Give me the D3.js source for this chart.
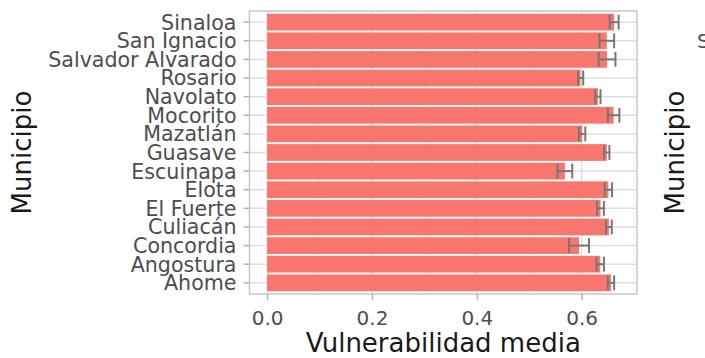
<!DOCTYPE html>
<html>
<head>
<meta charset="utf-8">
<script src="https://cdn.jsdelivr.net/npm/d3@7"></script>
<style>
  html, body { margin: 0; padding: 0; background: #fff; }
  svg { display: block; font-family: "DejaVu Sans", sans-serif; }
</style>
</head>
<body>
<svg id="chart" width="705" height="358"></svg>
<script>
// Mean vulnerability per municipality (top to bottom) with its standard error
const municipios = ["Sinaloa", "San Ignacio", "Salvador Alvarado", "Rosario", "Navolato",
  "Mocorito", "Mazatlán", "Guasave", "Escuinapa", "Elota", "El Fuerte", "Culiacán",
  "Concordia", "Angostura", "Ahome"];
const media = [0.662, 0.648, 0.6485, 0.598, 0.631, 0.661, 0.601, 0.648, 0.568, 0.651,
  0.636, 0.652, 0.595, 0.6355, 0.656];
const errorEst = [0.0085, 0.014, 0.016, 0.005, 0.005, 0.011, 0.006, 0.005, 0.014, 0.007,
  0.0065, 0.0055, 0.019, 0.007, 0.006];
const xTicks = [0, 0.2, 0.4, 0.6];
const xMinor = [0.1, 0.3, 0.5, 0.7];

const data = municipios.map((m, i) => ({ m, v: media[i], se: errorEst[i] }));

const svg = d3.select("#chart");
const panel = { left: 249.5, right: 637, top: 11, bottom: 294 };

// continuous axis padded 5% on each side, like ggplot's default expansion
const hi = d3.max(data, d => d.v + d.se);
const x = d3.scaleLinear()
  .domain([-0.05 * hi, 1.05 * hi])
  .range([panel.left, panel.right]);

const y = d3.scaleBand()
  .domain(municipios)
  .range([panel.top, panel.bottom])
  .paddingInner(0)
  .paddingOuter(0.1);
const step = y.step();
const cy = d => y(d) + y.bandwidth() / 2;

const g = svg.append("g");

// grid
g.selectAll("line.minor").data(xMinor.filter(t => x(t) < panel.right)).join("line")
  .attr("x1", d => x(d)).attr("x2", d => x(d))
  .attr("y1", panel.top).attr("y2", panel.bottom)
  .attr("stroke", "#ebebeb").attr("stroke-width", 0.9);
g.selectAll("line.majx").data(xTicks).join("line")
  .attr("x1", d => x(d)).attr("x2", d => x(d))
  .attr("y1", panel.top).attr("y2", panel.bottom)
  .attr("stroke", "#dedede").attr("stroke-width", 1.5);
g.selectAll("line.majy").data(municipios).join("line")
  .attr("x1", panel.left).attr("x2", panel.right)
  .attr("y1", d => cy(d)).attr("y2", d => cy(d))
  .attr("stroke", "#dedede").attr("stroke-width", 1.5);

// bars
g.selectAll("rect.bar").data(data).join("rect")
  .attr("x", x(0))
  .attr("y", d => cy(d.m) - 0.45 * step)
  .attr("width", d => x(d.v) - x(0))
  .attr("height", 0.9 * step)
  .attr("fill", "#F8766D");

// horizontal error bars
const eh = 0.8 * step / 2;
const eb = g.selectAll("g.eb").data(data).join("g").attr("stroke", "#777777").attr("stroke-width", 2);
eb.append("line")
  .attr("x1", d => x(d.v - d.se)).attr("x2", d => x(d.v + d.se))
  .attr("y1", d => cy(d.m)).attr("y2", d => cy(d.m));
eb.append("line")
  .attr("x1", d => x(d.v - d.se)).attr("x2", d => x(d.v - d.se))
  .attr("y1", d => cy(d.m) - eh).attr("y2", d => cy(d.m) + eh);
eb.append("line")
  .attr("x1", d => x(d.v + d.se)).attr("x2", d => x(d.v + d.se))
  .attr("y1", d => cy(d.m) - eh).attr("y2", d => cy(d.m) + eh);

// panel border
g.append("rect")
  .attr("x", panel.left).attr("y", panel.top)
  .attr("width", panel.right - panel.left).attr("height", panel.bottom - panel.top)
  .attr("fill", "none").attr("stroke", "#c8c8c8").attr("stroke-width", 1.5);

// axes
const xAxis = d3.axisBottom(x).tickValues(xTicks).tickFormat(d3.format(".1f"))
  .tickSizeInner(6).tickSizeOuter(0).tickPadding(9);
const gx = svg.append("g").attr("transform", `translate(0,${panel.bottom})`).call(xAxis);
gx.select(".domain").remove();
gx.selectAll(".tick line").attr("stroke", "#b3b3b3").attr("stroke-width", 1.5);
gx.selectAll(".tick text").attr("fill", "#4d4d4d").attr("font-size", 20)
  .attr("font-family", "DejaVu Sans").attr("y", 31).attr("dy", 0);

const yAxis = d3.axisLeft(y).tickSizeInner(6).tickSizeOuter(0).tickPadding(7);
const gy = svg.append("g").attr("transform", `translate(${panel.left},0)`).call(yAxis);
gy.select(".domain").remove();
gy.selectAll(".tick line").attr("stroke", "#b3b3b3").attr("stroke-width", 1.5);
gy.selectAll(".tick text").attr("fill", "#4d4d4d").attr("font-size", 20.6)
  .attr("font-family", "DejaVu Sans").attr("dy", "0.36em");

// axis titles
svg.append("text")
  .attr("x", (panel.left + panel.right) / 2).attr("y", 352)
  .attr("text-anchor", "middle").attr("font-size", 26).attr("fill", "#1a1a1a")
  .text("Vulnerabilidad media");
svg.append("text")
  .attr("transform", `translate(31,${(panel.top + panel.bottom) / 2}) rotate(-90)`)
  .attr("text-anchor", "middle").attr("font-size", 26).attr("fill", "#1a1a1a")
  .text("Municipio");

// start of the neighbouring panel
svg.append("text")
  .attr("transform", `translate(684,${(panel.top + panel.bottom) / 2}) rotate(-90)`)
  .attr("text-anchor", "middle").attr("font-size", 26).attr("fill", "#1a1a1a")
  .text("Municipio");
svg.append("text")
  .attr("x", 697).attr("y", 48)
  .attr("font-size", 20).attr("fill", "#4d4d4d")
  .text("Sinaloa");
</script>
</body>
</html>
